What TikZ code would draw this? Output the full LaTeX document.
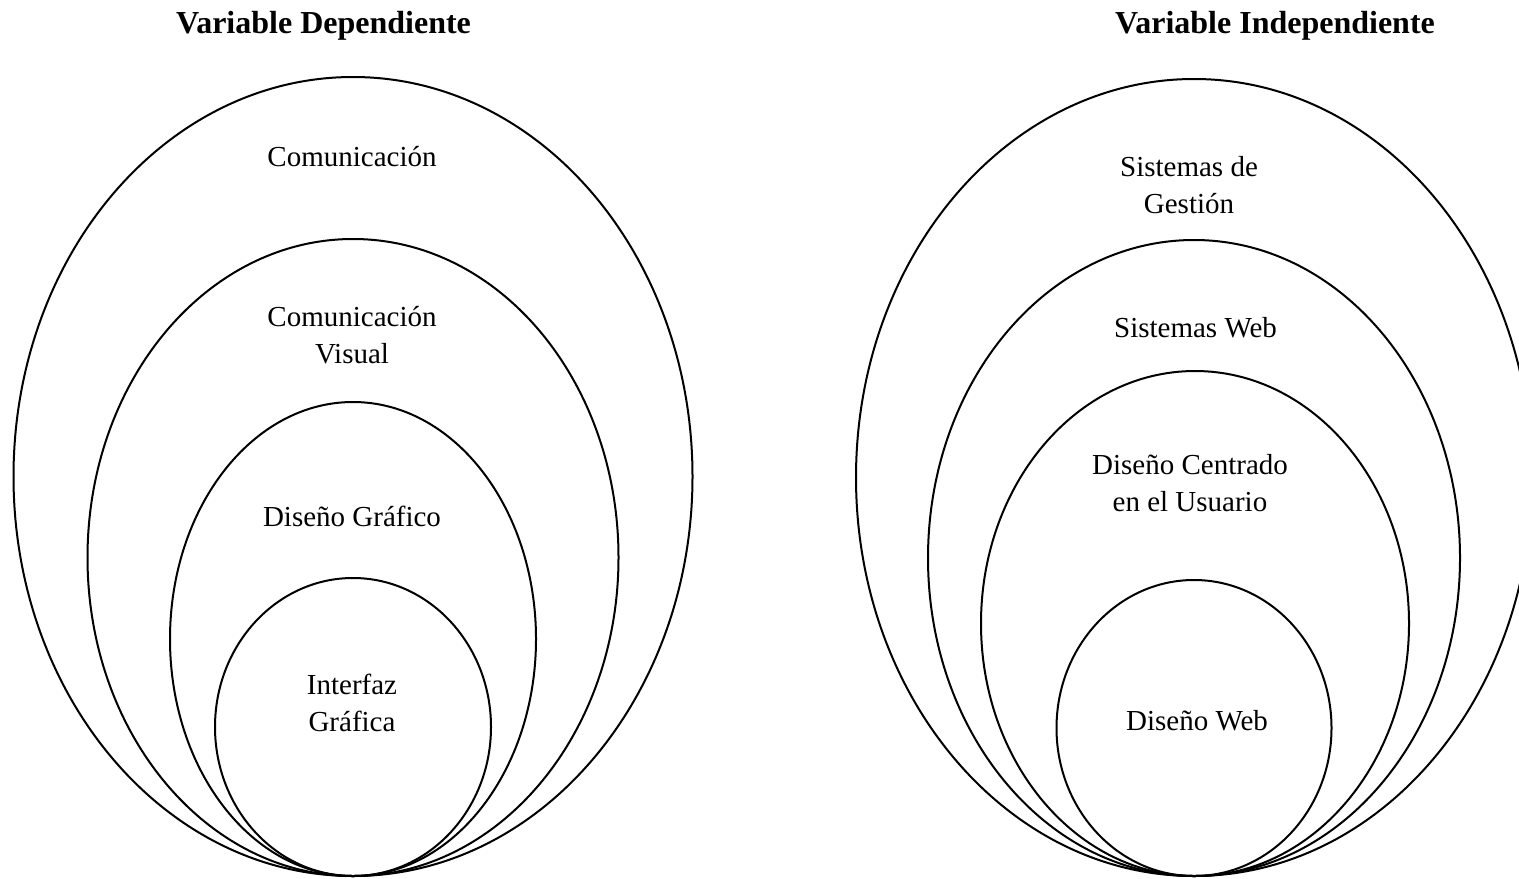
\documentclass[tikz,border=0pt]{standalone}
\usepackage{fontspec}
\setmainfont{Liberation Serif}
\usepackage{tikz}

\begin{document}
\begin{tikzpicture}[x=0.5pt,y=-0.5pt,line cap=round,
        capa/.style={line width=1pt},
        texto/.style={font=\fontsize{14.5}{18.5}\selectfont,align=center,anchor=base,inner sep=0pt},
        titulo/.style={font=\fontsize{16}{19}\selectfont\bfseries,anchor=base,inner sep=0pt}]
        \useasboundingbox (0,0) rectangle (1519,878);
        \clip (0,0) rectangle (1519,878);
        % Variable Dependiente
        \node[titulo] (tdep) at (323.5,33) {Variable Dependiente};
        \draw[capa] (353,476.5) ellipse [x radius=339.5, y radius=399.5];
        \draw[capa] (353,557.5) ellipse [x radius=265.5, y radius=318.5];
        \draw[capa] (353,639) ellipse [x radius=183, y radius=237];
        \draw[capa] (353,727) ellipse [x radius=138, y radius=149];
        \node[texto] (comu) at (352,166.5) {Comunicación};
        \node[texto] (comuvis) at (352,363) {Comunicación\\Visual};
        \node[texto] (disgraf) at (352,526) {Diseño Gráfico};
        \node[texto] (intgraf) at (352,731) {Interfaz\\Gráfica};
        % Variable Independiente
        \node[titulo] (tind) at (1275,33) {Variable Independiente};
        \draw[capa] (1194,477.5) ellipse [x radius=338, y radius=398.5];
        \draw[capa] (1194,558) ellipse [x radius=266, y radius=318];
        \draw[capa] (1195,623.5) ellipse [x radius=214, y radius=252.5];
        \draw[capa] (1194,728) ellipse [x radius=137.5, y radius=148];
        \node[texto] (sisgest) at (1189,213) {Sistemas de\\Gestión};
        \node[texto] (sisweb) at (1195.5,337) {Sistemas Web};
        \node[texto] (dcu) at (1190,511) {Diseño Centrado\\en el Usuario};
        \node[texto] (disweb) at (1197,730) {Diseño Web};
\end{tikzpicture}
\end{document}
